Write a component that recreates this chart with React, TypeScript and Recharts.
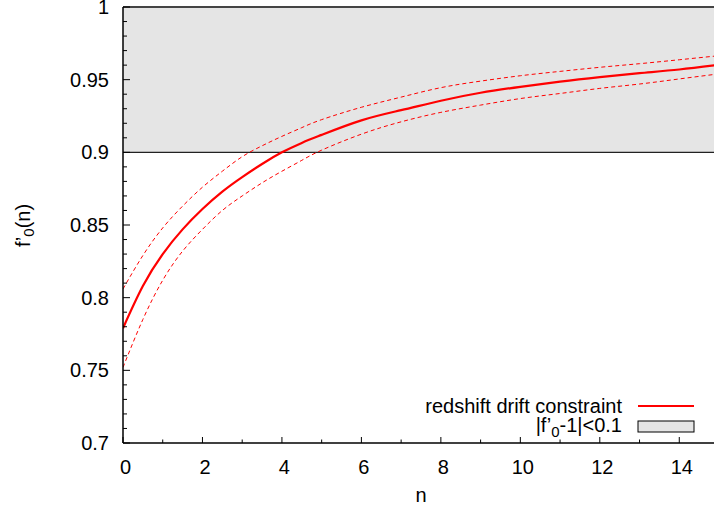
import React from "react";
import {
  ComposedChart,
  Line,
  XAxis,
  YAxis,
  ReferenceArea,
  ReferenceLine,
} from "recharts";

// ---- data ----
const nValues = [0, 0.5, 1, 1.5, 2, 2.5, 3, 3.5, 4, 4.5, 5, 6, 7, 8, 9, 10, 11, 12, 13, 14, 15];
const central = [0.779, 0.808, 0.83, 0.847, 0.861, 0.873, 0.883, 0.892, 0.9, 0.9065, 0.912, 0.922, 0.929, 0.9355, 0.941, 0.9451, 0.9487, 0.9518, 0.9545, 0.957, 0.9602];
const upper = [0.806, 0.829, 0.848, 0.863, 0.876, 0.887, 0.897, 0.9045, 0.911, 0.917, 0.9225, 0.931, 0.938, 0.9445, 0.949, 0.9527, 0.9557, 0.9585, 0.961, 0.9637, 0.9665];
const lower = [0.752, 0.785, 0.812, 0.832, 0.847, 0.86, 0.87, 0.879, 0.887, 0.8945, 0.9015, 0.9125, 0.921, 0.9275, 0.9325, 0.937, 0.9405, 0.944, 0.947, 0.9505, 0.954];

const xTicks = [0, 1, 2, 3, 4, 5, 6, 7, 8, 9, 10, 11, 12, 13, 14, 15];
const xMajor = [0, 2, 4, 6, 8, 10, 12, 14];
const xMajorLabels = ["0", "2", "4", "6", "8", "10", "12", "14"];

const yTicks = [
  0.7, 0.71, 0.72, 0.73, 0.74, 0.75, 0.76, 0.77, 0.78, 0.79,
  0.8, 0.81, 0.82, 0.83, 0.84, 0.85, 0.86, 0.87, 0.88, 0.89,
  0.9, 0.91, 0.92, 0.93, 0.94, 0.95, 0.96, 0.97, 0.98, 0.99, 1,
];
const yMajor = [0.7, 0.75, 0.8, 0.85, 0.9, 0.95, 1];
const yMajorLabels = ["0.7", "0.75", "0.8", "0.85", "0.9", "0.95", "1"];

const bandLow = 0.9;
const bandHigh = 1;

const data = nValues.map((n, i) => ({
  n,
  central: central[i],
  upper: upper[i],
  lower: lower[i],
}));

const FONT = "'Liberation Sans', Arial, Helvetica, sans-serif";

const findIndex = (arr: number[], v: number) =>
  arr.findIndex((m) => Math.abs(m - v) < 1e-9);

const LeftTick = (props: any) => {
  const { x, y, payload } = props;
  const idx = findIndex(yMajor, payload.value);
  const major = idx >= 0;
  return (
    <g>
      <line x1={x} x2={x + (major ? 7 : 4)} y1={y} y2={y} stroke="#000" strokeWidth={1} />
      {major && (
        <text x={x - 14} y={y + 7} textAnchor="end" fontSize={20} fontFamily={FONT} fill="#000">
          {yMajorLabels[idx]}
        </text>
      )}
    </g>
  );
};

const RightTick = (props: any) => {
  const { x, y, payload } = props;
  const idx = findIndex(yMajor, payload.value);
  const major = idx >= 0;
  return <line x1={x} x2={x - (major ? 7 : 4)} y1={y} y2={y} stroke="#000" strokeWidth={1} />;
};

const BottomTick = (props: any) => {
  const { x, y, payload } = props;
  const idx = findIndex(xMajor, payload.value);
  const major = idx >= 0;
  return (
    <g>
      <line x1={x} x2={x} y1={y} y2={y - (major ? 6 : 3.5)} stroke="#000" strokeWidth={1} />
      {major && (
        <text x={x + 2.5} y={y + 31} textAnchor="middle" fontSize={20} fontFamily={FONT} fill="#000">
          {xMajorLabels[idx]}
        </text>
      )}
    </g>
  );
};

export default function App() {
  return (
    <div
      style={{
        position: "absolute",
        left: 0,
        top: 0,
        width: 714,
        height: 510,
        overflow: "hidden",
        background: "#fff",
        fontFamily: FONT,
      }}
    >
      <ComposedChart
        width={720}
        height={510}
        data={data}
        margin={{ top: 7, right: 1, bottom: 0, left: 0 }}
      >
        <ReferenceArea
          yAxisId="left"
          y1={bandLow}
          y2={bandHigh}
          x1={0}
          x2={15}
          fill="#e5e5e5"
          fillOpacity={1}
          stroke="none"
          ifOverflow="hidden"
        />
        <ReferenceLine yAxisId="left" y={bandLow} stroke="#222" strokeWidth={1.2} />
        <ReferenceLine yAxisId="left" y={bandHigh} stroke="#444" strokeWidth={2} />
        <XAxis
          dataKey="n"
          type="number"
          domain={[0, 15]}
          ticks={xTicks}
          interval={0}
          allowDataOverflow
          height={67}
          tickSize={0}
          tickMargin={0}
          tick={<BottomTick />}
          axisLine={{ stroke: "#000", strokeWidth: 1.5 }}
          tickLine={false}
        />
        <YAxis
          yAxisId="left"
          type="number"
          domain={[0.7, 1]}
          ticks={yTicks}
          interval={0}
          allowDataOverflow
          width={123}
          tickSize={0}
          tickMargin={0}
          tick={<LeftTick />}
          axisLine={{ stroke: "#000", strokeWidth: 1.5 }}
          tickLine={false}
        />
        <YAxis
          yAxisId="right"
          orientation="right"
          type="number"
          domain={[0.7, 1]}
          ticks={yTicks}
          interval={0}
          allowDataOverflow
          width={0}
          tickSize={0}
          tickMargin={0}
          tick={<RightTick />}
          axisLine={false}
          tickLine={false}
        />
        <Line
          yAxisId="left"
          type="natural"
          dataKey="upper"
          stroke="#ff0000"
          strokeWidth={1}
          strokeDasharray="4 3"
          dot={false}
          activeDot={false}
          isAnimationActive={false}
        />
        <Line
          yAxisId="left"
          type="natural"
          dataKey="lower"
          stroke="#ff0000"
          strokeWidth={1}
          strokeDasharray="4 3"
          dot={false}
          activeDot={false}
          isAnimationActive={false}
        />
        <Line
          yAxisId="left"
          type="natural"
          dataKey="central"
          stroke="#ff0000"
          strokeWidth={2.2}
          dot={false}
          activeDot={false}
          isAnimationActive={false}
        />
      </ComposedChart>
      <svg
        width={714}
        height={510}
        style={{ position: "absolute", left: 0, top: 0, pointerEvents: "none" }}
      >
        {/* y axis title */}
        <text
          transform="translate(29.5,225.5) rotate(-90)"
          textAnchor="middle"
          fontSize={20}
          fontFamily={FONT}
          fill="#000"
        >
          f’<tspan fontSize={15} dy={4}>0</tspan>
          <tspan dy={-4}>(n)</tspan>
        </text>
        {/* x axis title */}
        <text x={421} y={502} textAnchor="middle" fontSize={20} fontFamily={FONT} fill="#000">
          n
        </text>
        {/* legend */}
        <text x={622} y={413} textAnchor="end" fontSize={20} fontFamily={FONT} fill="#000">
          redshift drift constraint
        </text>
        <line x1={638} x2={694} y1={406} y2={406} stroke="#ff0000" strokeWidth={2} />
        <text x={622} y={432} textAnchor="end" fontSize={20} fontFamily={FONT} fill="#000">
          |f’<tspan fontSize={15} dy={5}>0</tspan>
          <tspan dy={-5}>-1|&lt;0.1</tspan>
        </text>
        <rect x={638} y={421} width={56} height={11} fill="#e5e5e5" stroke="#000" strokeWidth={1} />
      </svg>
    </div>
  );
}
